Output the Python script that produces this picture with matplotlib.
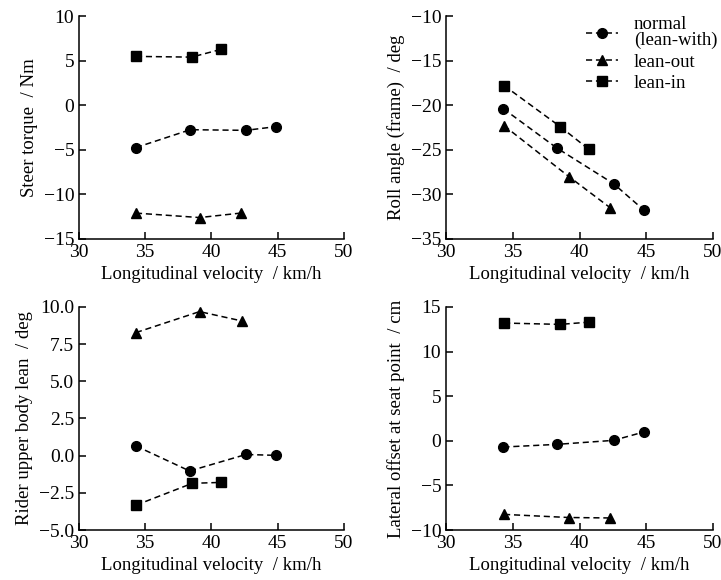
import matplotlib
matplotlib.use("Agg")
import matplotlib.pyplot as plt

plt.rcParams['font.family'] = ['Liberation Serif', 'DejaVu Serif']
plt.rcParams['font.size'] = 13.5

# Data
labels = ["normal\n(lean-with)", "lean-out", "lean-in"]
markers = ["o", "^", "s"]

# Steer torque / Nm
st_x_normal = [34.3, 38.4, 42.6, 44.9]
st_y_normal = [-4.75, -2.75, -2.82, -2.4]
st_x_out = [34.3, 39.1, 42.2]
st_y_out = [-12.1, -12.6, -12.1]
st_x_in = [34.3, 38.5, 40.7]
st_y_in = [5.47, 5.39, 6.25]

# Roll angle (frame) / deg
ra_x_normal = [34.3, 38.3, 42.55, 44.85]
ra_y_normal = [-20.4, -24.8, -28.8, -31.8]
ra_x_out = [34.35, 39.2, 42.3]
ra_y_out = [-22.3, -28.0, -31.5]
ra_x_in = [34.35, 38.55, 40.7]
ra_y_in = [-17.8, -22.4, -24.95]

# Rider upper body lean / deg
rl_x_normal = [34.3, 38.35, 42.6, 44.9]
rl_y_normal = [0.65, -1.03, 0.08, 0.02]
rl_x_out = [34.3, 39.1, 42.3]
rl_y_out = [8.28, 9.69, 9.06]
rl_x_in = [34.3, 38.55, 40.7]
rl_y_in = [-3.33, -1.86, -1.8]

# Lateral offset at seat point / cm
lo_x_normal = [34.3, 38.3, 42.55, 44.85]
lo_y_normal = [-0.7, -0.4, 0.05, 1.0]
lo_x_out = [34.35, 39.2, 42.3]
lo_y_out = [-8.25, -8.6, -8.65]
lo_x_in = [34.35, 38.55, 40.7]
lo_y_in = [13.2, 13.05, 13.3]

xticks = [30, 35, 40, 45, 50]
xlabel = "Longitudinal velocity  / km/h"

panels = [
    dict(pos=[0.1096, 0.588, 0.3674, 0.3844],
         series=[(st_x_normal, st_y_normal), (st_x_out, st_y_out), (st_x_in, st_y_in)],
         ylim=(-15, 10), yticks=[-15, -10, -5, 0, 5, 10], fmt="{:g}",
         ylabel="Steer torque  / Nm", legend=False),
    dict(pos=[0.6186, 0.588, 0.3703, 0.3844],
         series=[(ra_x_normal, ra_y_normal), (ra_x_out, ra_y_out), (ra_x_in, ra_y_in)],
         ylim=(-35, -10), yticks=[-35, -30, -25, -20, -15, -10], fmt="{:g}",
         ylabel="Roll angle (frame)  / deg", legend=True),
    dict(pos=[0.1096, 0.0862, 0.3674, 0.3845],
         series=[(rl_x_normal, rl_y_normal), (rl_x_out, rl_y_out), (rl_x_in, rl_y_in)],
         ylim=(-5, 10), yticks=[-5, -2.5, 0, 2.5, 5, 7.5, 10], fmt="{:.1f}",
         ylabel="Rider upper body lean  / deg", legend=False),
    dict(pos=[0.6186, 0.0862, 0.3703, 0.3845],
         series=[(lo_x_normal, lo_y_normal), (lo_x_out, lo_y_out), (lo_x_in, lo_y_in)],
         ylim=(-10, 15), yticks=[-10, -5, 0, 5, 10, 15], fmt="{:g}",
         ylabel="Lateral offset at seat point  / cm", legend=False),
]

fig = plt.figure(figsize=(7.21, 5.80), dpi=100)
for p in panels:
    ax = fig.add_axes(p["pos"])
    for (xs, ys), m, lab in zip(p["series"], markers, labels):
        ax.plot(xs, ys, linestyle=(0, (4, 2.5)), color="black", linewidth=1.1,
                marker=m, markersize=7 if m != "^" else 7.5, label=lab)
    ax.set_xlim(30, 50)
    ax.set_ylim(*p["ylim"])
    ax.set_xticks(xticks)
    ax.set_yticks(p["yticks"])
    ax.set_yticklabels([p["fmt"].format(v).replace("-", "\u2212") for v in p["yticks"]])
    ax.spines["top"].set_visible(False)
    ax.spines["right"].set_visible(False)
    for s in ("left", "bottom"):
        ax.spines[s].set_linewidth(1.1)
    ax.tick_params(direction="in", length=5, width=1.1, labelsize=14, pad=3.5)
    ax.set_xlabel(xlabel, fontsize=13.5, labelpad=4)
    ax.set_ylabel(p["ylabel"], fontsize=13.5, labelpad=4)
    if p["legend"]:
        leg = ax.legend(loc="upper right", bbox_to_anchor=(1.065, 1.06), frameon=False,
                        fontsize=13.5, handlelength=1.7, handletextpad=0.85,
                        labelspacing=0.22, borderpad=0.2)
        for t in leg.get_texts():
            t.set_linespacing(0.95)

fig.savefig("out.png", dpi=100)
